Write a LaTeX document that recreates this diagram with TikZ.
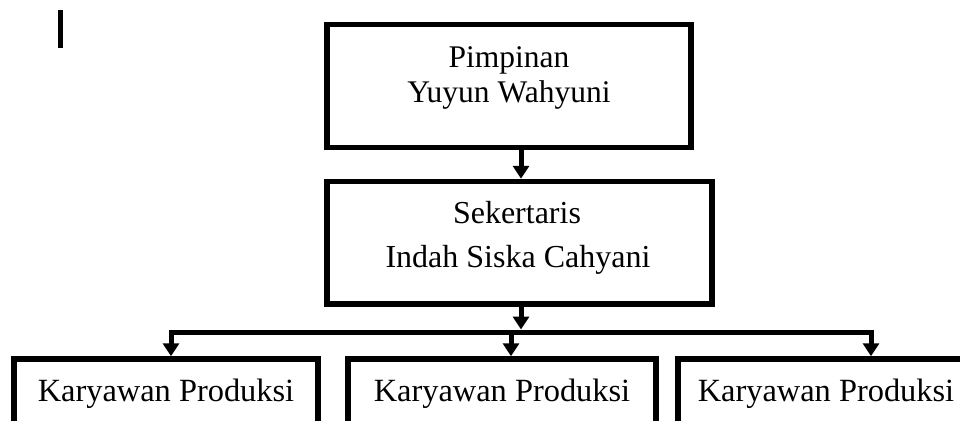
\documentclass[tikz,border=0pt]{standalone}
\usepackage{fontspec}
\setmainfont{Liberation Serif}
\usetikzlibrary{arrows.meta}
\begin{document}
\begin{tikzpicture}[x=1pt,y=-1pt,
  box/.style={draw=black,line width=5.5pt,inner sep=0pt,fill=white},
  txt/.style={anchor=base,inner sep=0pt,font=\fontsize{31.5}{36}\selectfont},
  txtmid/.style={txt,font=\fontsize{32}{36}\selectfont},
  txtlow/.style={txt,font=\fontsize{32.4}{36}\selectfont},
  conn/.style={draw=black,line width=5pt},
  arr/.style={conn,-{Triangle[width=16pt,length=13pt]}}]
  \useasboundingbox (0,0) rectangle (960,420);
  \fill[white] (0,0) rectangle (960,420);

  % small vertical mark in the upper left corner
  \fill[black] (58,10) rectangle (63,48);

  % boxes
  \node[box,minimum width=364pt,minimum height=123pt] (top) at (509,86) {};
  \node[box,minimum width=385pt,minimum height=122.5pt] (sek) at (519.5,242.75) {};
  \node[box,minimum width=304pt,minimum height=111pt] (k1) at (166,414.5) {};
  \node[box,minimum width=308pt,minimum height=111pt] (k2) at (502,414.5) {};
  \node[box,minimum width=308pt,minimum height=111pt] (k3) at (832,414.5) {};

  % labels
  \node[txt] (topA) at (509,67) {Pimpinan};
  \node[txt] (topB) at (509,102) {Yuyun Wahyuni};
  \node[txtmid] (sekA) at (517,223) {Sekertaris};
  \node[txtmid] (sekB) at (518,267) {Indah Siska Cahyani};
  \node[txtlow] (k1t) at (166,401) {Karyawan Produksi};
  \node[txtlow] (k2t) at (502,401) {Karyawan Produksi};
  \node[txtlow] (k3t) at (826,401) {Karyawan Produksi};

  % connectors
  \coordinate (axis) at (521,0);
  \coordinate (s1) at (521,329.5);
  \coordinate (b1) at (171,332);
  \coordinate (b2) at (511,332);
  \coordinate (b3) at (871,332);

  \draw[arr] (top.south -| axis) -- (sek.north -| axis);
  \draw[arr] (sek.south -| s1) -- (s1);
  \draw[arr] (b2) -- (b1) -- (k1.north -| b1);
  \draw[arr] (b2) -- (b3) -- (k3.north -| b3);
  \draw[arr] (b2) -- (k2.north -| b2);
\end{tikzpicture}
\end{document}
